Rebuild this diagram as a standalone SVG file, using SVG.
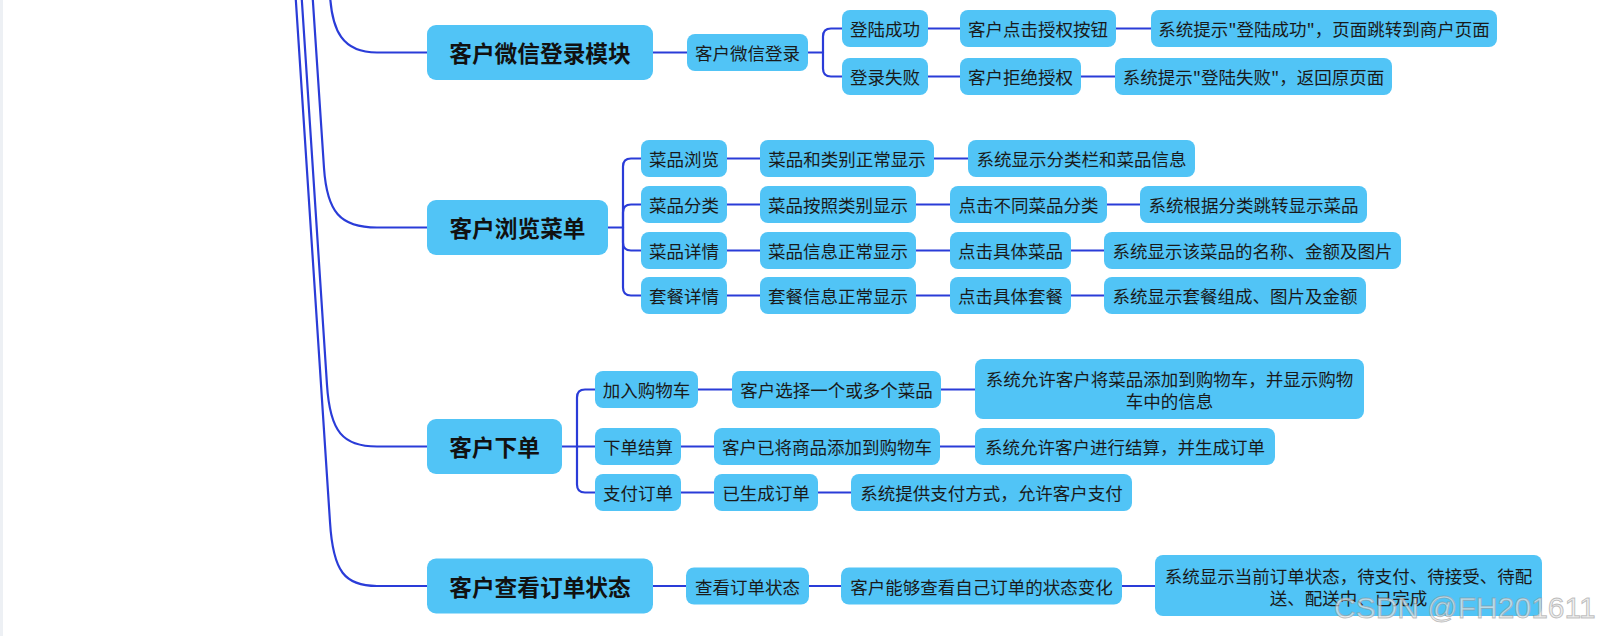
<svg xmlns="http://www.w3.org/2000/svg" width="1606" height="636" viewBox="0 0 1606 636">
<style>
.m{fill:#51c4f6;}
.n{fill:#51c4f6;}
.mt{font-family:"Noto Sans CJK SC","Microsoft YaHei",sans-serif;font-size:22.7px;font-weight:bold;fill:#111;text-anchor:middle;dominant-baseline:central;}
.t{font-family:"Noto Sans CJK SC","Microsoft YaHei",sans-serif;font-size:17.5px;fill:#1a1a1a;text-anchor:middle;dominant-baseline:central;}
.c{fill:none;stroke:#2a3cd8;stroke-width:2.2;stroke-linecap:round;stroke-linejoin:round;}
.wm{font-family:"Liberation Sans",Arial,sans-serif;font-size:30px;fill:#e6e6e6;fill-opacity:0.7;stroke:#8c8c8c;stroke-opacity:0.55;stroke-width:0.9;}
</style>
<rect x="0" y="0" width="1606" height="636" fill="#ffffff"/>
<rect x="0" y="0" width="3" height="636" fill="#edf0f4"/>
<g id="connectors">
<!-- trunk curves -->
<path class="c" d="M330 -5 C332 30 342 52.5 377 52.5 L427 52.5"/>
<path class="c" d="M312.5 -5 L324 168 C327 212 340 227.5 377 227.5 L427 227.5"/>
<path class="c" d="M301.5 -5 L327 385 C330 432 343 446.5 377 446.5 L427 446.5"/>
<path class="c" d="M295.5 -5 L330 522 C333 572 345 586 377 586 L427 586"/>
<!-- login -->
<path class="c" d="M653 52.5 H687"/>
<path class="c" d="M808 52.5 H823"/>
<path class="c" d="M842 28.5 H831 Q823 28.5 823 36.5 V68.5 Q823 76.5 831 76.5 H842"/>
<path class="c" d="M928 28.5 H960"/>
<path class="c" d="M1116 28.5 H1151"/>
<path class="c" d="M928 76.5 H960"/>
<path class="c" d="M1081 76.5 H1115"/>
<!-- menu -->
<path class="c" d="M608 227.5 H623"/>
<path class="c" d="M641 158.5 H631 Q623 158.5 623 166.5 V287.5 Q623 295.5 631 295.5 H641"/>
<path class="c" d="M623 227.5 V212.5 Q623 204.5 631 204.5 H641"/>
<path class="c" d="M623 227.5 V242.5 Q623 250.5 631 250.5 H641"/>
<path class="c" d="M727 158.5 H760"/>
<path class="c" d="M934 158.5 H968"/>
<path class="c" d="M727 204.5 H760"/>
<path class="c" d="M916 204.5 H950"/>
<path class="c" d="M1107 204.5 H1140"/>
<path class="c" d="M727 250.5 H760"/>
<path class="c" d="M916 250.5 H950"/>
<path class="c" d="M1071 250.5 H1104"/>
<path class="c" d="M727 295.5 H760"/>
<path class="c" d="M916 295.5 H950"/>
<path class="c" d="M1071 295.5 H1104"/>
<!-- order -->
<path class="c" d="M562 446.5 H595"/>
<path class="c" d="M595 389.5 H585 Q577 389.5 577 397.5 V484.5 Q577 492.5 585 492.5 H595"/>
<path class="c" d="M698 389.5 H732"/>
<path class="c" d="M941 389.5 H975"/>
<path class="c" d="M681 446.5 H714"/>
<path class="c" d="M940 446.5 H975"/>
<path class="c" d="M681 492.5 H714"/>
<path class="c" d="M818 492.5 H851"/>
<!-- status -->
<path class="c" d="M653 586 H686"/>
<path class="c" d="M809 586 H841"/>
<path class="c" d="M1122 586 H1155"/>
</g>
<!-- login module -->
<g id="n-login"><rect class="m" x="427" y="25" width="226" height="55" rx="9"/><text class="mt" x="540" y="52.5">客户微信登录模块</text></g>
<g id="n-wxlogin"><rect class="n" x="687" y="34" width="121" height="37" rx="8"/><text class="t" x="747.5" y="52.5">客户微信登录</text></g>
<g id="n-ok"><rect class="n" x="842" y="10" width="86" height="37" rx="8"/><text class="t" x="885" y="28.5">登陆成功</text></g>
<g id="n-fail"><rect class="n" x="842" y="58" width="86" height="37" rx="8"/><text class="t" x="885" y="76.5">登录失败</text></g>
<g id="n-auth"><rect class="n" x="960" y="10" width="156" height="37" rx="8"/><text class="t" x="1038" y="28.5">客户点击授权按钮</text></g>
<g id="n-okmsg"><rect class="n" x="1151" y="10" width="346" height="37" rx="8"/><text class="t" x="1324" y="28.5">系统提示"登陆成功"，页面跳转到商户页面</text></g>
<g id="n-deny"><rect class="n" x="960" y="58" width="121" height="37" rx="8"/><text class="t" x="1020.5" y="76.5">客户拒绝授权</text></g>
<g id="n-failmsg"><rect class="n" x="1115" y="58" width="277" height="37" rx="8"/><text class="t" x="1253.5" y="76.5">系统提示"登陆失败"，返回原页面</text></g>
<!-- menu -->
<g id="n-menu"><rect class="m" x="427" y="200" width="181" height="55" rx="9"/><text class="mt" x="517.5" y="227.5">客户浏览菜单</text></g>
<g id="n-browse"><rect class="n" x="641" y="140" width="86" height="37" rx="8"/><text class="t" x="684" y="158.5">菜品浏览</text></g>
<g id="n-cat"><rect class="n" x="641" y="186" width="86" height="37" rx="8"/><text class="t" x="684" y="204.5">菜品分类</text></g>
<g id="n-detail"><rect class="n" x="641" y="232" width="86" height="37" rx="8"/><text class="t" x="684" y="250.5">菜品详情</text></g>
<g id="n-set"><rect class="n" x="641" y="277" width="86" height="37" rx="8"/><text class="t" x="684" y="295.5">套餐详情</text></g>
<g id="n-b1"><rect class="n" x="760" y="140" width="174" height="37" rx="8"/><text class="t" x="847" y="158.5">菜品和类别正常显示</text></g>
<g id="n-b2"><rect class="n" x="968" y="140" width="227" height="37" rx="8"/><text class="t" x="1081.5" y="158.5">系统显示分类栏和菜品信息</text></g>
<g id="n-c1"><rect class="n" x="760" y="186" width="156" height="37" rx="8"/><text class="t" x="838" y="204.5">菜品按照类别显示</text></g>
<g id="n-c2"><rect class="n" x="950" y="186" width="157" height="37" rx="8"/><text class="t" x="1028.5" y="204.5">点击不同菜品分类</text></g>
<g id="n-c3"><rect class="n" x="1140" y="186" width="227" height="37" rx="8"/><text class="t" x="1253.5" y="204.5">系统根据分类跳转显示菜品</text></g>
<g id="n-d1"><rect class="n" x="760" y="232" width="156" height="37" rx="8"/><text class="t" x="838" y="250.5">菜品信息正常显示</text></g>
<g id="n-d2"><rect class="n" x="950" y="232" width="121" height="37" rx="8"/><text class="t" x="1010.5" y="250.5">点击具体菜品</text></g>
<g id="n-d3"><rect class="n" x="1104" y="232" width="297" height="37" rx="8"/><text class="t" x="1252.5" y="250.5">系统显示该菜品的名称、金额及图片</text></g>
<g id="n-s1"><rect class="n" x="760" y="277" width="156" height="37" rx="8"/><text class="t" x="838" y="295.5">套餐信息正常显示</text></g>
<g id="n-s2"><rect class="n" x="950" y="277" width="121" height="37" rx="8"/><text class="t" x="1010.5" y="295.5">点击具体套餐</text></g>
<g id="n-s3"><rect class="n" x="1104" y="277" width="262" height="37" rx="8"/><text class="t" x="1235" y="295.5">系统显示套餐组成、图片及金额</text></g>
<!-- order -->
<g id="n-order"><rect class="m" x="427" y="419" width="135" height="55" rx="9"/><text class="mt" x="494.5" y="446.5">客户下单</text></g>
<g id="n-cart"><rect class="n" x="595" y="371" width="103" height="37" rx="8"/><text class="t" x="646.5" y="389.5">加入购物车</text></g>
<g id="n-checkout"><rect class="n" x="595" y="428" width="86" height="37" rx="8"/><text class="t" x="638" y="446.5">下单结算</text></g>
<g id="n-pay"><rect class="n" x="595" y="474" width="86" height="37" rx="8"/><text class="t" x="638" y="492.5">支付订单</text></g>
<g id="n-o1"><rect class="n" x="732" y="371" width="209" height="37" rx="8"/><text class="t" x="836.5" y="389.5">客户选择一个或多个菜品</text></g>
<g id="n-o2"><rect class="n" x="975" y="359" width="389" height="60" rx="8"/><text class="t" x="1169.5" y="378.5">系统允许客户将菜品添加到购物车，并显示购物</text><text class="t" x="1169.5" y="400.5">车中的信息</text></g>
<g id="n-o3"><rect class="n" x="714" y="428" width="226" height="37" rx="8"/><text class="t" x="827" y="446.5">客户已将商品添加到购物车</text></g>
<g id="n-o4"><rect class="n" x="975" y="428" width="300" height="37" rx="8"/><text class="t" x="1125" y="446.5">系统允许客户进行结算，并生成订单</text></g>
<g id="n-o5"><rect class="n" x="714" y="474" width="104" height="37" rx="8"/><text class="t" x="766" y="492.5">已生成订单</text></g>
<g id="n-o6"><rect class="n" x="851" y="474" width="281" height="37" rx="8"/><text class="t" x="991.5" y="492.5">系统提供支付方式，允许客户支付</text></g>
<!-- status -->
<g id="n-status"><rect class="m" x="427" y="558.5" width="226" height="55" rx="9"/><text class="mt" x="540" y="586">客户查看订单状态</text></g>
<g id="n-st1"><rect class="n" x="686" y="567.5" width="123" height="37" rx="8"/><text class="t" x="747.5" y="586">查看订单状态</text></g>
<g id="n-st2"><rect class="n" x="841" y="567.5" width="281" height="37" rx="8"/><text class="t" x="981.5" y="586">客户能够查看自己订单的状态变化</text></g>
<g id="n-st3"><rect class="n" x="1155" y="555" width="387" height="61" rx="8"/><text class="t" x="1348.5" y="575.5">系统显示当前订单状态，待支付、待接受、待配</text><text class="t" x="1348.5" y="597.5">送、配送中、已完成</text></g>
<text class="wm" x="1334" y="618">CSDN @FH201611</text>
</svg>
